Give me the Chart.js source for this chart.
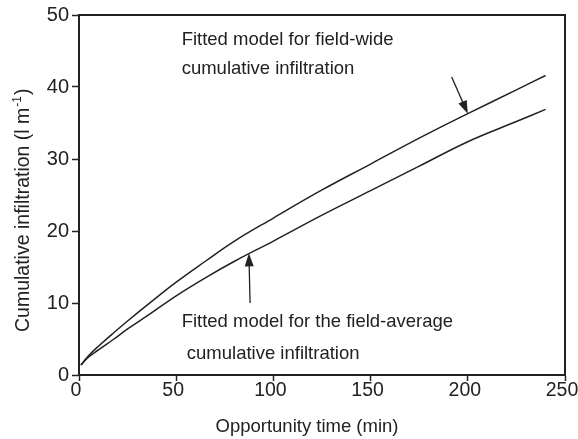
<!DOCTYPE html>
<html>
<head>
<meta charset="utf-8">
<script src="https://cdn.jsdelivr.net/npm/chart.js@4.4.1/dist/chart.umd.min.js"></script>
<style>
  html, body { margin: 0; padding: 0; background: #fff; }
  #wrap { width: 578px; height: 439px; }
</style>
</head>
<body>
<div id="wrap"><canvas id="infil"></canvas></div>
<script>
// values (min, l m-1)
const times = [1, 5, 10, 18, 25, 35, 50, 65, 80, 100, 125, 150, 175, 200, 225, 240];
const fieldWide = [1.4, 2.7, 4.0, 5.9, 7.5, 9.7, 12.9, 15.8, 18.6, 21.8, 25.7, 29.3, 32.9, 36.3, 39.6, 41.6];
const fieldAverage = [1.4, 2.5, 3.5, 5.0, 6.4, 8.2, 11.0, 13.5, 15.8, 18.6, 22.2, 25.6, 29.0, 32.4, 35.2, 36.9];
const xTicks = [0, 50, 100, 150, 200, 250];
const yTicks = [0, 10, 20, 30, 40, 50];

const upperNote = ['Fitted model for field-wide', 'cumulative infiltration'];
const lowerNote = ['Fitted model for the field-average', ' cumulative infiltration'];

const ink = '#222';
const fontName = "'Liberation Sans', Arial, sans-serif";

function pts(ys) {
  return times.map((t, i) => ({ x: t, y: ys[i] }));
}

function arrow(ctx, x1, y1, x2, y2) {
  var ang = Math.atan2(y2 - y1, x2 - x1);
  var len = 13, half = 4.5;
  ctx.beginPath();
  ctx.moveTo(x1, y1);
  ctx.lineTo(x2 - Math.cos(ang) * len * 0.8, y2 - Math.sin(ang) * len * 0.8);
  ctx.stroke();
  ctx.beginPath();
  ctx.moveTo(x2, y2);
  ctx.lineTo(x2 - Math.cos(ang) * len + Math.sin(ang) * half, y2 - Math.sin(ang) * len - Math.cos(ang) * half);
  ctx.lineTo(x2 - Math.cos(ang) * len - Math.sin(ang) * half, y2 - Math.sin(ang) * len + Math.cos(ang) * half);
  ctx.closePath();
  ctx.fill();
}

const decor = {
  id: 'decor',
  afterDraw(chart) {
    var ctx = chart.ctx;
    var xs = chart.scales.x, ys = chart.scales.y;
    var a = chart.chartArea;
    var px = v => xs.getPixelForValue(v);
    var py = v => ys.getPixelForValue(v);
    ctx.save();
    // frame top/right
    ctx.strokeStyle = ink;
    ctx.lineWidth = 2;
    ctx.beginPath();
    ctx.moveTo(a.left, a.top);
    ctx.lineTo(a.right, a.top);
    ctx.lineTo(a.right, a.bottom);
    ctx.stroke();

    ctx.fillStyle = ink;
    ctx.font = '18.5px ' + fontName;
    ctx.textAlign = 'left';
    ctx.textBaseline = 'alphabetic';
    ctx.fillText(upperNote[0], px(52.8), py(45.8));
    ctx.fillText(upperNote[1], px(52.8), py(41.8));
    ctx.fillText(lowerNote[0], px(52.8), py(6.7));
    ctx.fillText(lowerNote[1], px(52.8), py(2.2));

    ctx.lineWidth = 1.3;
    arrow(ctx, px(191.7), py(41.4), px(200), py(36.3));
    arrow(ctx, px(88), py(10), px(87.4), py(16.9));

    // axis titles
    ctx.textAlign = 'center';
    ctx.fillText('Opportunity time (min)', 307, 432);

    ctx.font = '19.5px ' + fontName;
    ctx.translate(29, 332);
    ctx.rotate(-Math.PI / 2);
    ctx.textAlign = 'left';
    var s1 = 'Cumulative infiltration (l m';
    ctx.fillText(s1, 0, 0);
    var w = ctx.measureText(s1).width;
    ctx.font = '12px ' + fontName;
    ctx.fillText('-1', w + 1, -8);
    var w2 = ctx.measureText('-1').width;
    ctx.font = '19.5px ' + fontName;
    ctx.fillText(')', w + w2 + 2, 0);
    ctx.restore();
  }
};

new Chart(document.getElementById('infil'), {
  type: 'line',
  plugins: [decor],
  data: {
    datasets: [
      {
        label: 'field-wide',
        data: pts(fieldWide),
        borderColor: ink,
        borderWidth: 1.5,
        pointRadius: 0,
        tension: 0.4,
        fill: false
      },
      {
        label: 'field-average',
        data: pts(fieldAverage),
        borderColor: ink,
        borderWidth: 1.5,
        pointRadius: 0,
        tension: 0.4,
        fill: false
      }
    ]
  },
  options: {
    responsive: true,
    maintainAspectRatio: false,
    animation: false,
    layout: { padding: { top: 15, right: 13, left: 0, bottom: 0 } },
    plugins: {
      legend: { display: false },
      tooltip: { enabled: false }
    },
    scales: {
      x: {
        type: 'linear',
        min: 0,
        max: 250,
        afterFit: s => { s.height = 64; s.paddingRight = 0; },
        afterBuildTicks: s => { s.ticks = xTicks.map(v => ({ value: v })); },
        grid: { drawOnChartArea: false, drawTicks: true, tickLength: 6, tickColor: ink, tickWidth: 1.5 },
        border: { display: true, color: ink, width: 2 },
        ticks: { color: ink, padding: -2, labelOffset: -3, maxRotation: 0, font: { family: fontName, size: 19.5 } }
      },
      y: {
        min: 0,
        max: 50,
        afterFit: s => { s.width = 79; },
        afterBuildTicks: s => { s.ticks = yTicks.map(v => ({ value: v })); },
        grid: { drawOnChartArea: false, drawTicks: true, tickLength: 7, tickColor: ink, tickWidth: 1.5 },
        border: { display: true, color: ink, width: 2 },
        ticks: { color: ink, padding: 3, font: { family: fontName, size: 20 } }
      }
    }
  }
});
</script>
</body>
</html>
